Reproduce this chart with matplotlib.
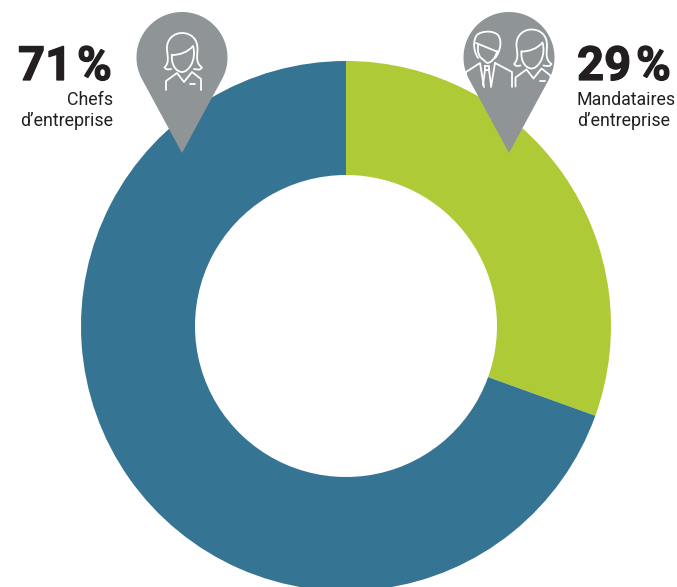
import numpy as np
import matplotlib
matplotlib.use("Agg")
import matplotlib.pyplot as plt
import matplotlib.patheffects as pe
from matplotlib.path import Path
from matplotlib.patches import PathPatch, Polygon

# parts as drawn in the picture (the ring is not exactly 71/29)
parts = [30.5, 69.5]
part_colors = ["#aeca37", "#357492"]
percent_labels = ["29\u200a%", "71\u200a%"]
name_labels = [["Mandataires", "d\u2019entreprise"], ["Chefs", "d\u2019entreprise"]]

W, H = 677, 587
GREY = "#8f9496"
INK = "#231f20"
M, L, C = Path.MOVETO, Path.LINETO, Path.CURVE4

plt.rcParams["font.family"] = ["Roboto", "DejaVu Sans"]
fig = plt.figure(figsize=(W / 100, H / 100), dpi=100)

# the ring, in its own axes so the pie keeps radius 1
ring = fig.add_axes([81 / W, (H - 591) / H, 530 / W, 530 / H])
ring.pie(parts, colors=part_colors, startangle=90, counterclock=False, radius=1,
         wedgeprops={"width": 114 / 265, "linewidth": 0})
ring.set_xlim(-1, 1)
ring.set_ylim(-1, 1)

# everything else in pixel coordinates
ax = fig.add_axes([0, 0, 1, 1])
ax.set_xlim(0, W)
ax.set_ylim(H, 0)
ax.axis("off")


def pin(cx):
    cy, r, tip = 57.5, 45.5, 153
    a = np.arccos(r / (tip - cy))
    t = np.linspace(a, 2 * np.pi - a, 120)
    pts = np.column_stack([cx + r * np.sin(t), cy + r * np.cos(t)])
    pts = np.vstack([pts, [cx, tip]])
    ax.add_patch(Polygon(pts, closed=True, facecolor=GREY, edgecolor="none"))


def stroke(verts, codes, dx=0, dy=0):
    verts = np.array(verts, dtype=float) + [dx, dy]
    ax.add_patch(PathPatch(Path(verts, codes), facecolor="none", edgecolor="white",
                           linewidth=1.3, capstyle="round", joinstyle="round"))


def woman(dx=0, dy=0):
    # hair
    stroke([(171, 69), (168, 69.5), (166, 69), (164.5, 67.5),
            (169, 63), (168, 58), (167, 50),
            (166, 39), (174, 33), (182, 33),
            (191, 33), (198, 39), (197.5, 50),
            (197, 58), (196, 63), (202, 67.5),
            (200, 69.5), (197, 69.5), (194, 69)],
           [M, L, L, L] + [C] * 12 + [L, L, L], dx, dy)
    # face
    stroke([(172, 55), (180, 55), (188, 52), (193, 46),
            (195, 52), (194, 60), (191, 65),
            (188, 70), (185, 72), (182, 72),
            (177, 72), (171, 66), (172, 55)],
           [M] + [C] * 12, dx, dy)
    # shoulders and collar
    stroke([(166, 90), (166, 81), (177, 73), (184, 82), (192, 72), (201, 79), (201, 90)],
           [M, L, L, L, L, L, L], dx, dy)
    # pocket
    stroke([(190, 84), (195, 84)], [M, L], dx, dy)


def man():
    # hair outline
    stroke([(478, 58), (473, 50), (473, 40), (477, 35),
            (481, 31), (493, 30), (498, 35),
            (502, 40), (501, 51), (495, 58)],
           [M] + [C] * 9)
    # hair line and jaw
    stroke([(476, 43), (498, 52)], [M, L])
    stroke([(478, 44), (478, 52), (480, 57), (487, 63),
            (491, 63), (496, 58), (497, 51)],
           [M, L, L, L, C, C, C])
    # suit
    stroke([(466, 86), (466, 72), (480, 63), (484, 87)], [M, L, L, L])
    stroke([(495, 63), (512, 72), (512, 87)], [M, L, L])
    stroke([(495, 63), (491, 87)], [M, L])
    # tie
    stroke([(485, 66), (489, 66), (489, 70), (485, 70), (485, 66)], [M, L, L, L, L])
    stroke([(485, 70), (483, 85)], [M, L])
    stroke([(489, 70), (491, 85)], [M, L])


pin(182)
pin(509)
woman()
woman(349.5, -3.5)
man()

# text, each block hangs on one edge; the percent gets a light stroke to look heavier
heavy = [pe.withStroke(linewidth=0.9, foreground=INK)]
ax.text(112, 80, percent_labels[1], ha="right", va="baseline", fontsize=34,
        fontweight="bold", color=INK, path_effects=heavy)
ax.text(113, 105, name_labels[1][0], ha="right", va="baseline", fontsize=12.8, color=INK)
ax.text(113, 126, name_labels[1][1], ha="right", va="baseline", fontsize=12.8, color=INK)

ax.text(577, 80, percent_labels[0], ha="left", va="baseline", fontsize=34,
        fontweight="bold", color=INK, path_effects=heavy)
ax.text(577, 105, name_labels[0][0], ha="left", va="baseline", fontsize=12.8, color=INK)
ax.text(577, 126, name_labels[0][1], ha="left", va="baseline", fontsize=12.8, color=INK)

fig.savefig("out.png", dpi=100)
